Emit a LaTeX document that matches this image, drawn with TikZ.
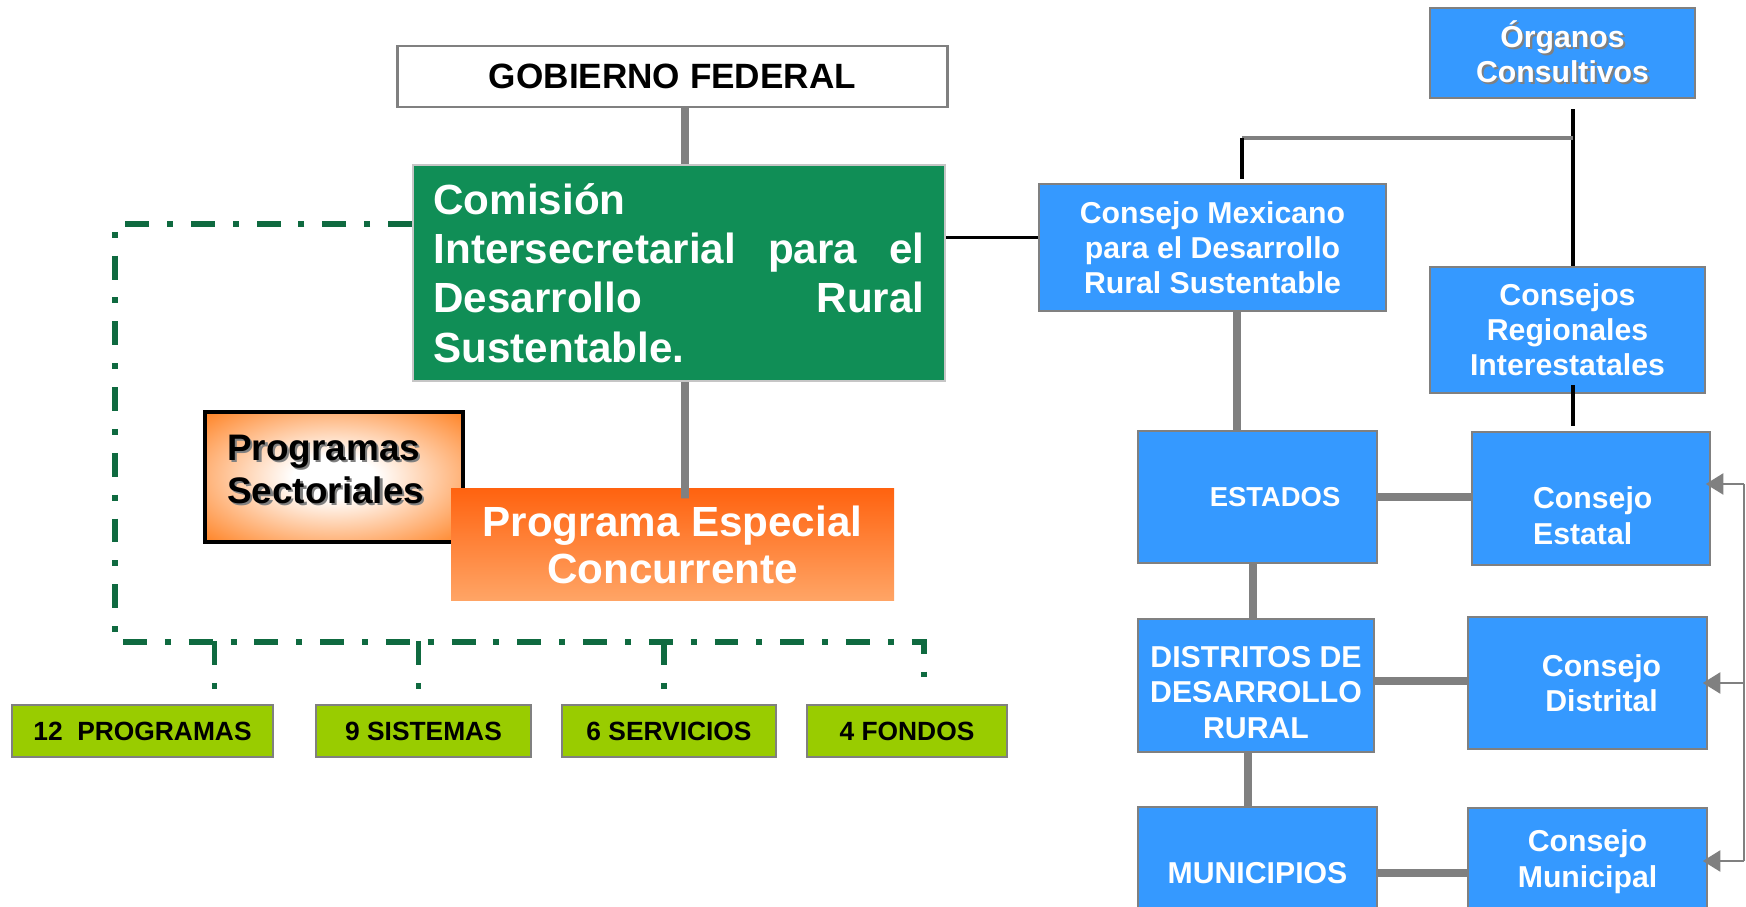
\documentclass[tikz,border=0pt]{standalone}
\usepackage{fontspec}
\setmainfont{Liberation Sans}
\usetikzlibrary{arrows.meta}
\definecolor{comgreen}{RGB}{16,142,86}
\definecolor{dashgreen}{RGB}{15,106,64}
\definecolor{boxblue}{RGB}{53,153,255}
\definecolor{limegreen}{RGB}{153,204,0}
\definecolor{orgdark}{RGB}{255,99,16}
\definecolor{orglight}{RGB}{255,165,102}
\definecolor{orgedge}{RGB}{255,128,32}
\definecolor{linegray}{RGB}{128,128,128}
\newcommand{\shad}[1]{\makebox[0pt][l]{\hspace{0.6pt}\raisebox{-0.6pt}{\color{gray}#1}}#1}
\pgfdeclareradialshading{sectglow}{\pgfpoint{0bp}{0bp}}{color(0bp)=(white); color(8bp)=(white); color(36bp)=(orgedge); color(50bp)=(orgedge)}
\tikzset{
    gobbox/.style={draw=linegray, line width=0.7pt, fill=white, font=\fontsize{10}{12}\selectfont\bfseries},
    combox/.style={draw=gray!45, line width=0.6pt, fill=comgreen, text=white, align=justify,
        text width=139.7pt, inner xsep=5.8pt, font=\fontsize{12}{14}\selectfont\bfseries},
    espbox/.style={top color=orgdark, bottom color=orglight, text=white, align=center,
        font=\fontsize{12}{13.5}\selectfont\bfseries},
    sectbox/.style={draw=black, line width=1.2pt, shade, shading=sectglow, align=left,
        text width=60.7pt, inner xsep=6.3pt, font=\fontsize{10.5}{12.4}\selectfont\bfseries},
    limebox/.style={draw=linegray, line width=0.6pt, fill=limegreen, minimum height=0.52cm,
        font=\fontsize{7.5}{9}\selectfont\bfseries},
    bluebox/.style={draw=linegray, line width=0.6pt, fill=boxblue, text=white, align=center,
        inner xsep=2pt, font=\fontsize{8.6}{10}\selectfont\bfseries},
    thickgray/.style={draw=linegray, line width=2.2pt},
    thinblack/.style={draw=black, line width=1pt},
    dashdot/.style={draw=dashgreen, line width=1.6pt, dash pattern=on 6.8pt off 5.1pt on 1.7pt off 5.1pt},
    railline/.style={draw=linegray, line width=0.6pt},
    railtip/.style={railline, -{Triangle[length=5pt, width=6pt]}, shorten >=-1.5pt},
}
\begin{document}
\begin{tikzpicture}[x=1cm, y=-1cm]
    \clip (0,0) rectangle (17.46,9.07);
    % federal side
    \node[gobbox, minimum width=5.50cm, minimum height=0.61cm] (gob) at (6.725,0.763) {GOBIERNO FEDERAL};
    \node[combox, minimum width=5.32cm, minimum height=2.16cm] (com) at (6.79,2.73)
        {Comisión\\ Intersecretarial para el\linebreak Desarrollo Rural\linebreak Sustentable.};
    \node[sectbox, minimum width=2.58cm, minimum height=1.30cm] (sect) at (3.34,4.77)
        {\shad{Programas}\\\shad{Sectoriales}\rule[-4.4pt]{0pt}{4.4pt}};
    \node[espbox, minimum width=4.43cm, minimum height=1.12cm] (esp) at (6.725,5.45)
        {Programa Especial\\Concurrente};
    \node[limebox, minimum width=2.61cm] (p12) at (1.425,7.31) {12\ \ PROGRAMAS};
    \node[limebox, minimum width=2.15cm] (s9) at (4.235,7.31) {9 SISTEMAS};
    \node[limebox, minimum width=2.14cm] (s6) at (6.69,7.31) {6 SERVICIOS};
    \node[limebox, minimum width=2.00cm] (f4) at (9.07,7.31) {4 FONDOS};
    % consultative side
    \node[bluebox, minimum width=2.65cm, minimum height=0.90cm] (org) at (15.625,0.53)
        {\shad{Órganos}\\\shad{Consultivos}};
    \node[bluebox, minimum width=3.47cm, minimum height=1.27cm] (cmdrs) at (12.125,2.475)
        {Consejo Mexicano\\para el Desarrollo\\Rural Sustentable};
    \node[bluebox, minimum width=2.75cm, minimum height=1.26cm] (cri) at (15.675,3.30)
        {Consejos\\Regionales\\Interestatales};
    \node[bluebox, font=\fontsize{7.8}{10}\selectfont\bfseries, minimum width=2.39cm, minimum height=1.32cm] (est) at (12.575,4.97)
        {\hspace*{10pt}ESTADOS};
    \node[bluebox, align=left, minimum width=2.38cm, minimum height=1.33cm] (cest) at (15.91,4.985)
        {\rule{0pt}{16pt}\hspace*{1pt}Consejo\\\hspace*{1pt}Estatal};
    \node[bluebox, minimum width=2.36cm, minimum height=1.33cm] (ddr) at (12.56,6.855)
        {\rule{0pt}{10pt}DISTRITOS DE\\DESARROLLO\\RURAL};
    \node[bluebox, minimum width=2.39cm, minimum height=1.32cm] (cdis) at (15.875,6.83)
        {\hspace*{8pt}Consejo\\\hspace*{8pt}Distrital};
    \node[bluebox, minimum width=2.39cm, minimum height=1.32cm] (mun) at (12.575,8.73) {MUNICIPIOS};
    \node[bluebox, minimum width=2.39cm, minimum height=1.32cm] (cmun) at (15.875,8.74)
        {Consejo\\Municipal\rule[-8.8pt]{0pt}{8.8pt}};
    \coordinate (bus) at (1.15,6.42);
    \coordinate (hub) at (15.73,1.38);
    \coordinate (split) at (12.42,1.38);
    \coordinate (rail) at (17.44,4.84);
    \coordinate (railend) at (17.44,8.61);
    % connectors
    \draw[thickgray] ([xshift=0.06cm]com.north) -- ([xshift=0.125cm]gob.south);
    \draw[thickgray, shorten >=-0.1cm] ([xshift=0.06cm]com.south) -- ([xshift=0.125cm]esp.north);
    \draw[thinblack] ([yshift=0.1cm]cmdrs.west) -- ([yshift=0.1cm]cmdrs.west -| com.east);
    \draw[dashdot, shorten >=0.09cm] ([yshift=0.49cm]com.west) -| (bus) -| ([xshift=0.17cm]f4.north);
    \foreach \b/\dx in {p12/0.72, s9/-0.05, s6/-0.05}
        \draw[dashdot, shorten >=0.09cm] ([xshift=\dx cm, yshift=0.63cm]\b.north) -- ([xshift=\dx cm]\b.north);
    \draw[thinblack, shorten <=0.1cm] (hub |- org.south) -- (hub |- cri.north);
    \draw[draw=linegray, line width=1pt] (hub) -- (split);
    \draw[thinblack, shorten >=0.04cm] (split) -- (split |- cmdrs.north);
    \draw[thinblack, shorten <=-0.09cm, shorten >=0.05cm] (hub |- cri.south) -- (hub |- cest.north);
    \draw[thickgray] ([xshift=0.245cm]cmdrs.south) -- ([xshift=-0.205cm]est.north);
    \draw[thickgray] ([xshift=-0.045cm]est.south) -- ([xshift=-0.03cm]ddr.north);
    \draw[thickgray] ([xshift=-0.08cm]ddr.south) -- ([xshift=-0.095cm]mun.north);
    \draw[thickgray] (est.east) -- (est.east -| cest.west);
    \draw[thickgray] ([yshift=0.045cm]ddr.east) -- ([yshift=0.02cm]cdis.west);
    \draw[thickgray] (mun.east) -- ([yshift=0.01cm]cmun.west);
    \draw[railline] (rail) -- (railend);
    \draw[railtip] (rail) -- (rail -| cest.east);
    \draw[railtip] (rail |- cdis.east) -- (cdis.east);
    \draw[railtip] (railend) -- (railend -| cmun.east);
\end{tikzpicture}
\end{document}
